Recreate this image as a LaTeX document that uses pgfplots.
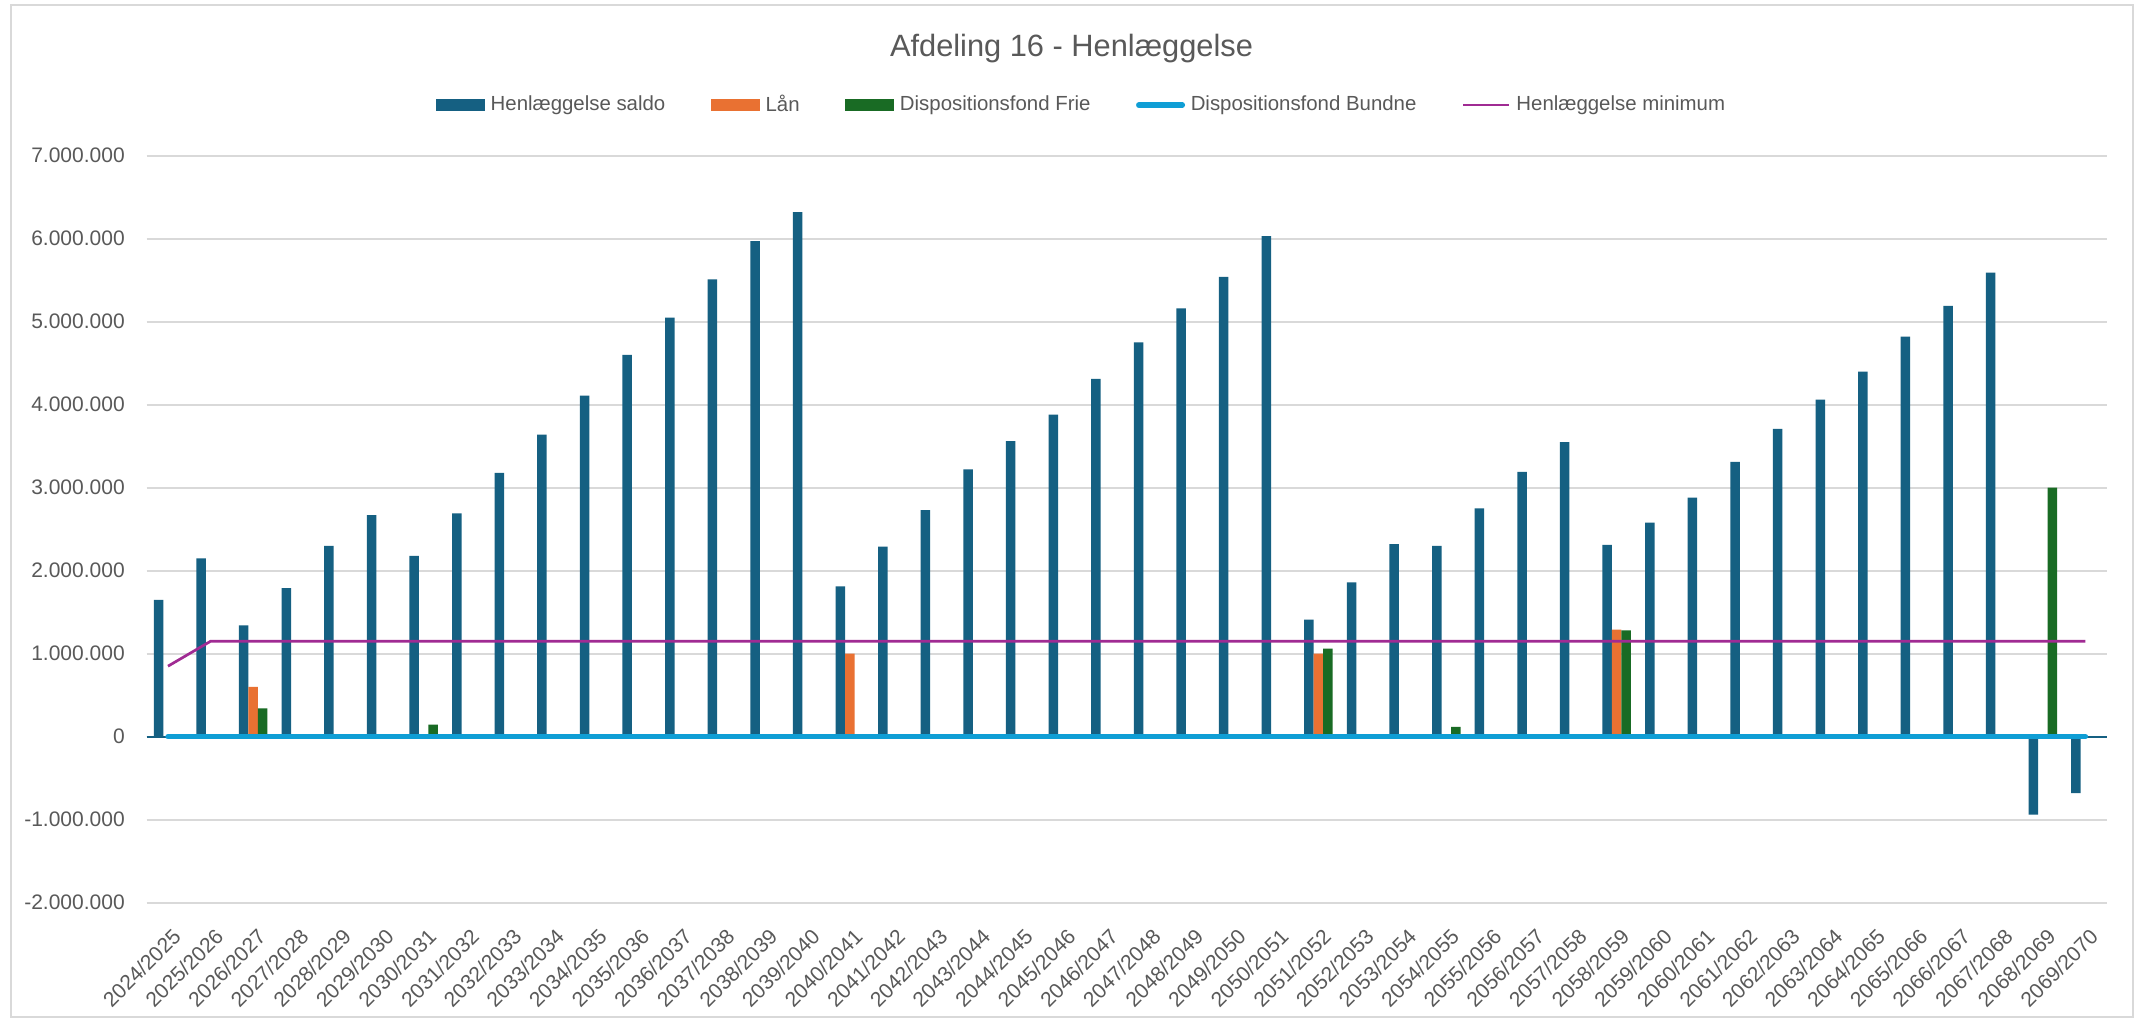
\documentclass[border=0pt]{standalone}
\usepackage{fontspec}
\setmainfont{Liberation Sans}
\usepackage{pgfplots}
\pgfplotsset{compat=1.18}
\definecolor{cSaldo}{HTML}{156082}
\definecolor{cLaan}{HTML}{E97132}
\definecolor{cFrie}{HTML}{196B24}
\definecolor{cBundne}{HTML}{0F9ED5}
\definecolor{cMin}{HTML}{A02B93}
\definecolor{cGrid}{HTML}{D9D9D9}
\definecolor{cText}{HTML}{595959}
\begin{document}
\begin{tikzpicture}
\useasboundingbox (-73.35pt,-58.15pt) rectangle (996.15pt,451.35pt);
\fill[white] (-73.35pt,-58.15pt) rectangle (996.15pt,451.35pt);
\draw[cGrid, line width=0.8pt] (-67.85pt,-57pt) rectangle (993.15pt,448.85pt);
\begin{axis}[
  at={(0pt,0pt)}, anchor=south west,
  scale only axis, width=980pt, height=373.5pt,
  xmin=-0.5, xmax=45.5, ymin=-2000000, ymax=7000000,
  axis line style={draw=none},
  major tick length=0pt,
  scaled y ticks=false,
  ytick={-2000000,-1000000,0,1000000,2000000,3000000,4000000,5000000,6000000,7000000},
  yticklabels={-2.000.000,-1.000.000,0,1.000.000,2.000.000,3.000.000,4.000.000,5.000.000,6.000.000,7.000.000},
  extra y ticks={0}, extra y tick labels={},
  extra y tick style={major grid style={color=cSaldo, line width=1pt}},
  ymajorgrids,
  major grid style={color=cGrid, line width=0.8pt},
  xtick={0,...,45},
  xticklabels={2024/2025,2025/2026,2026/2027,2027/2028,2028/2029,2029/2030,2030/2031,2031/2032,2032/2033,2033/2034,2034/2035,2035/2036,2036/2037,2037/2038,2038/2039,2039/2040,2040/2041,2041/2042,2042/2043,2043/2044,2044/2045,2045/2046,2046/2047,2047/2048,2048/2049,2049/2050,2050/2051,2051/2052,2052/2053,2053/2054,2054/2055,2055/2056,2056/2057,2057/2058,2058/2059,2059/2060,2060/2061,2061/2062,2062/2063,2063/2064,2064/2065,2065/2066,2066/2067,2067/2068,2068/2069,2069/2070},
  tick label style={font=\fontsize{10.5}{12}\selectfont, text=cText},
  xticklabel style={xshift=4.5pt, yshift=-15pt, rotate=45, anchor=east, inner sep=0pt},
  yticklabel style={anchor=east, inner sep=0pt, xshift=-10.8pt},
  legend columns=5,
  legend cell align=left,
  legend style={
    at={(0.1476,1.0683)}, anchor=west, draw=none, fill=none,
    inner sep=0pt, outer sep=0pt,
    font=\fontsize{10.2}{12}\selectfont, text=cText,
    nodes={inner sep=0pt},
    /tikz/every odd column/.append style={column sep=2.85pt},
    /tikz/every even column/.append style={column sep=22.8pt},
  },
]
\addplot[ybar, bar width=4.75pt, bar shift=-4.75pt, fill=cSaldo, draw=none,
  legend image code/.code={\fill[cSaldo] (0pt,-3.35pt) rectangle (24.5pt,3pt);}]
  coordinates {
  (0,1650000) (1,2150000) (2,1340000) (3,1790000) (4,2300000) (5,2670000)
  (6,2180000) (7,2690000) (8,3180000) (9,3640000) (10,4110000) (11,4600000)
  (12,5050000) (13,5510000) (14,5970000) (15,6320000) (16,1810000) (17,2290000)
  (18,2730000) (19,3220000) (20,3560000) (21,3880000) (22,4310000) (23,4750000)
  (24,5160000) (25,5540000) (26,6030000) (27,1410000) (28,1860000) (29,2320000)
  (30,2300000) (31,2750000) (32,3190000) (33,3550000) (34,2310000) (35,2580000)
  (36,2880000) (37,3310000) (38,3710000) (39,4060000) (40,4400000) (41,4820000)
  (42,5190000) (43,5590000) (44,-940000) (45,-680000)};
\addlegendentry{Henlæggelse saldo}
\addplot[ybar, bar width=4.75pt, bar shift=0pt, fill=cLaan, draw=none,
  legend image code/.code={\fill[cLaan] (0pt,-3.35pt) rectangle (24.5pt,3pt);}]
  coordinates {(2,600000) (16,1000000) (27,1000000) (34,1290000)};
\addlegendentry{Lån}
\addplot[ybar, bar width=4.75pt, bar shift=4.75pt, fill=cFrie, draw=none,
  legend image code/.code={\fill[cFrie] (0pt,-3.35pt) rectangle (24.5pt,3pt);}]
  coordinates {(2,340000) (6,145000) (27,1060000) (30,120000) (34,1280000) (44,3000000)};
\addlegendentry{Dispositionsfond Frie}
\addplot[sharp plot, no marks, color=cBundne, line width=2.7pt, line cap=round,
  legend image code/.code={\draw[cBundne, line width=2.7pt, line cap=round] (1.35pt,-0.2pt) -- (23.15pt,-0.2pt);}]
  coordinates {
  (0,0) (1,0) (2,0) (3,0) (4,0) (5,0) (6,0) (7,0) (8,0) (9,0) (10,0) (11,0)
  (12,0) (13,0) (14,0) (15,0) (16,0) (17,0) (18,0) (19,0) (20,0) (21,0) (22,0)
  (23,0) (24,0) (25,0) (26,0) (27,0) (28,0) (29,0) (30,0) (31,0) (32,0) (33,0)
  (34,0) (35,0) (36,0) (37,0) (38,0) (39,0) (40,0) (41,0) (42,0) (43,0) (44,0) (45,0)};
\addlegendentry{Dispositionsfond Bundne}
\addplot[sharp plot, no marks, color=cMin, line width=1.35pt,
  legend image code/.code={\draw[cMin, line width=1.35pt] (0pt,-0.2pt) -- (23pt,-0.2pt);}]
  coordinates {
  (0,850000) (1,1150000) (2,1150000) (3,1150000) (4,1150000) (5,1150000)
  (6,1150000) (7,1150000) (8,1150000) (9,1150000) (10,1150000) (11,1150000)
  (12,1150000) (13,1150000) (14,1150000) (15,1150000) (16,1150000) (17,1150000)
  (18,1150000) (19,1150000) (20,1150000) (21,1150000) (22,1150000) (23,1150000)
  (24,1150000) (25,1150000) (26,1150000) (27,1150000) (28,1150000) (29,1150000)
  (30,1150000) (31,1150000) (32,1150000) (33,1150000) (34,1150000) (35,1150000)
  (36,1150000) (37,1150000) (38,1150000) (39,1150000) (40,1150000) (41,1150000)
  (42,1150000) (43,1150000) (44,1150000) (45,1150000)};
\addlegendentry{Henlæggelse minimum}
\end{axis}
\node[anchor=base, font=\fontsize{15.4}{18}\selectfont, text=cText] at (462.4pt,422.85pt) {Afdeling 16 - Henlæggelse};
\end{tikzpicture}
\end{document}
